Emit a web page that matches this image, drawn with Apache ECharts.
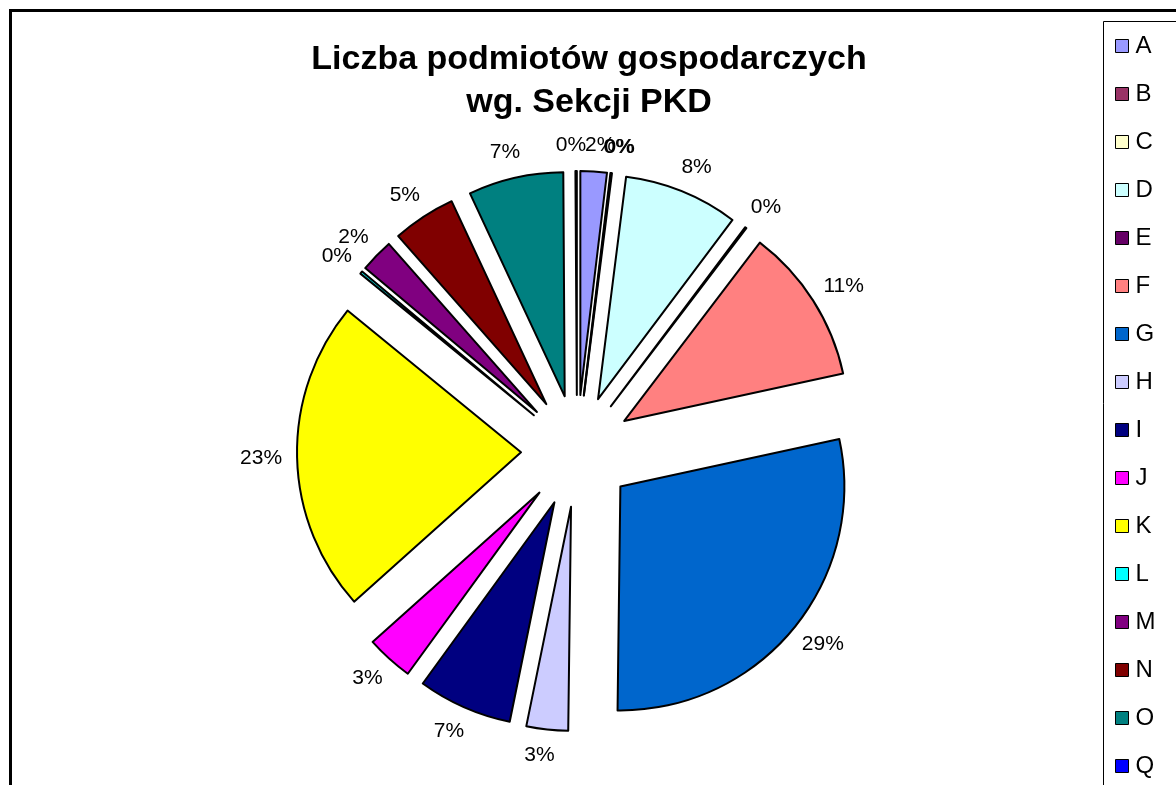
<!DOCTYPE html>
<html>
<head>
<meta charset="utf-8">
<script src="https://cdn.jsdelivr.net/npm/echarts@6/dist/echarts.min.js"></script>
<style>
  html, body { margin: 0; padding: 0; background: #fff; }
  #main { width: 1176px; height: 785px; }
</style>
</head>
<body>
<div id="main"></div>
<script>
// sekcje PKD i udzialy (%)
var sections = ['A', 'B', 'C', 'D', 'E', 'F', 'G', 'H', 'I', 'J', 'K', 'L', 'M', 'N', 'O', 'Q'];
var shares = [1.9, 0.04, 0.06, 8.25, 0.1, 11.25, 28.6, 3.0, 6.8, 3.38, 22.52, 0.2, 2.4, 4.55, 6.85, 0.1];
var colors = ['#9999FF', '#993366', '#FFFFCC', '#CCFFFF', '#660066', '#FF8080', '#0066CC', '#CCCCFF',
              '#000080', '#FF00FF', '#FFFF00', '#00FFFF', '#800080', '#800000', '#008080', '#0000FF'];

var font = 'Liberation Sans, Arial, sans-serif';

var total = shares.reduce(function (a, b) { return a + b; }, 0);
var cum = [];
shares.reduce(function (acc, v, i) { cum[i] = acc; return acc + v; }, 0);

var pieData = sections.map(function (s, i) {
  return { name: s, value: shares[i], selected: true, itemStyle: { color: colors[i] } };
});

var chart = echarts.init(document.getElementById('main'));
chart.setOption({
  animation: false,
  backgroundColor: '#fff',
  title: {
    text: 'Liczba podmiotów gospodarczych\nwg. Sekcji PKD',
    left: 584,
    top: 33,
    textAlign: 'center',
    textStyle: { fontFamily: font, fontSize: 34, fontWeight: 'bold', color: '#000', lineHeight: 43 }
  },
  graphic: [
    { type: 'rect', shape: { x: 10.5, y: 10.5, width: 1300, height: 900 },
      style: { fill: null, stroke: '#000', lineWidth: 3 }, silent: true },
    { type: 'rect', shape: { x: 1103.5, y: 21.5, width: 200, height: 900 },
      style: { fill: null, stroke: '#000', lineWidth: 1 }, silent: true }
  ],
  legend: {
    orient: 'vertical',
    left: 1103,
    top: 22,
    padding: [12, 0, 0, 12],
    itemWidth: 13,
    itemHeight: 13,
    itemGap: 24,
    icon: 'rect',
    selectedMode: false,
    itemStyle: { borderColor: '#000', borderWidth: 1 },
    textStyle: { fontFamily: font, fontSize: 24, color: '#000', padding: [0, 0, 0, 2] },
    data: sections
  },
  series: [{
    type: 'pie',
    center: [577, 451],
    radius: 224,
    startAngle: 90,
    clockwise: true,
    selectedMode: 'multiple',
    selectedOffset: 56,
    avoidLabelOverlap: false,
    minAngle: 0,
    itemStyle: { borderColor: '#000', borderWidth: 2 },
    emphasis: { disabled: true },
    select: { itemStyle: { borderColor: '#000', borderWidth: 2 } },
    label: {
      position: 'outside',
      fontFamily: font,
      fontSize: 21,
      color: '#000',
      formatter: function (p) { return Math.round(p.percent) + '%'; }
    },
    labelLine: { show: false, length: 10, length2: 0 },
    // etykiety jak w Excelu: przesuniete promieniowo, wysrodkowane wzgledem kata
    labelLayout: function (p) {
      var i = p.dataIndex;
      var mid = (cum[i] + shares[i] / 2) / total * Math.PI * 2;
      var s = Math.sin(mid);
      var w = p.labelRect ? p.labelRect.width : 0;
      return {
        dx: -(s < 0 ? -1 : 1) * (1 - Math.abs(s)) * w / 2,
        dy: -Math.cos(mid) * 16,
        hideOverlap: false
      };
    },
    data: pieData
  }]
});
</script>
</body>
</html>
